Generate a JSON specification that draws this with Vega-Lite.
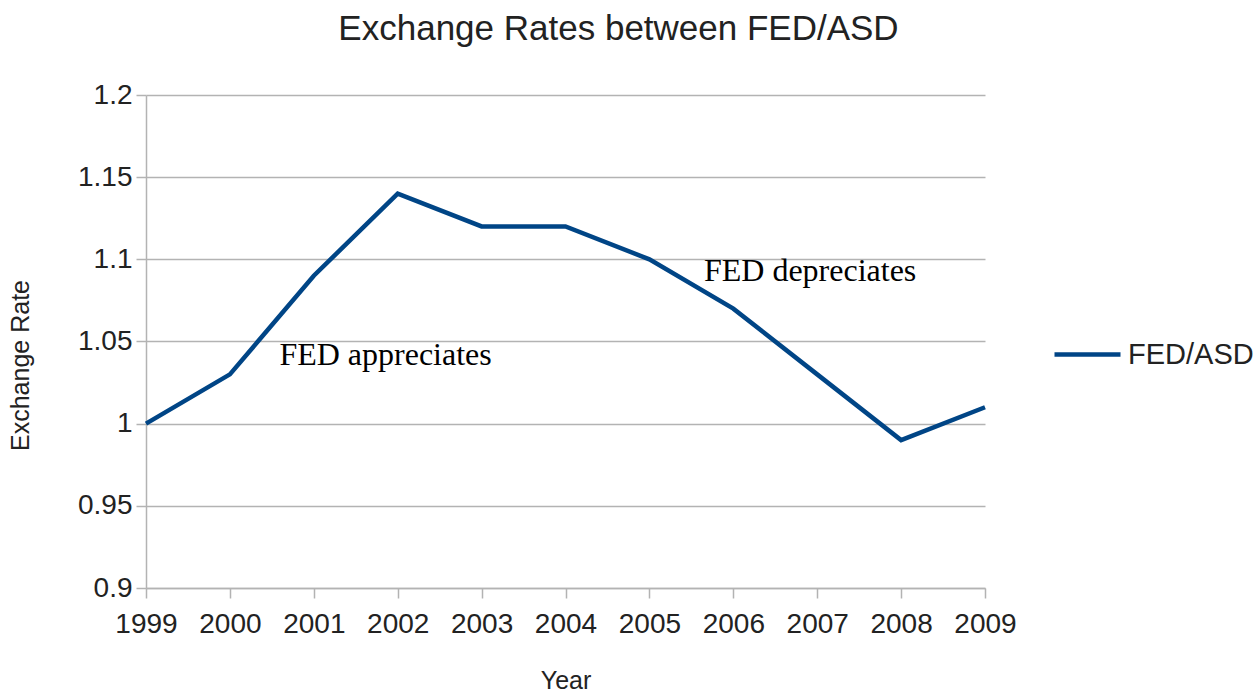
{
  "$schema": "https://vega.github.io/schema/vega-lite/v6.json",
  "width": 839,
  "height": 493,
  "autosize": {"type": "none"},
  "padding": {"left": 146, "top": 95, "right": 274, "bottom": 105},
  "background": "white",
  "title": {
    "text": "Exchange Rates between FED/ASD",
    "font": "Liberation Sans",
    "fontSize": 35,
    "fontWeight": "normal",
    "color": "#222222",
    "anchor": "middle",
    "frame": "group",
    "dx": 53,
    "offset": 34
  },
  "config": {
    "view": {"stroke": null},
    "axis": {
      "labelFont": "Liberation Sans",
      "titleFont": "Liberation Sans",
      "labelColor": "#222222",
      "titleColor": "#222222",
      "labelFontSize": 28,
      "titleFontSize": 25,
      "titleFontWeight": "normal",
      "domainColor": "#b3b3b3",
      "tickColor": "#b3b3b3",
      "gridColor": "#b3b3b3",
      "domainWidth": 1.5,
      "tickWidth": 1.5,
      "gridWidth": 1.5,
      "tickSize": 10
    }
  },
  "layer": [
    {
      "data": {
        "values": [
          {"year": 1999, "rate": 1.00, "series": "FED/ASD"},
          {"year": 2000, "rate": 1.03, "series": "FED/ASD"},
          {"year": 2001, "rate": 1.09, "series": "FED/ASD"},
          {"year": 2002, "rate": 1.14, "series": "FED/ASD"},
          {"year": 2003, "rate": 1.12, "series": "FED/ASD"},
          {"year": 2004, "rate": 1.12, "series": "FED/ASD"},
          {"year": 2005, "rate": 1.10, "series": "FED/ASD"},
          {"year": 2006, "rate": 1.07, "series": "FED/ASD"},
          {"year": 2007, "rate": 1.03, "series": "FED/ASD"},
          {"year": 2008, "rate": 0.99, "series": "FED/ASD"},
          {"year": 2009, "rate": 1.01, "series": "FED/ASD"}
        ]
      },
      "mark": {"type": "line", "strokeWidth": 4.5, "strokeJoin": "miter"},
      "encoding": {
        "x": {
          "field": "year",
          "type": "quantitative",
          "scale": {"domain": [1999, 2009], "nice": false, "zero": false},
          "axis": {
            "values": [1999, 2000, 2001, 2002, 2003, 2004, 2005, 2006, 2007, 2008, 2009],
            "format": "d",
            "grid": false,
            "title": "Year",
            "labelPadding": 12,
            "titlePadding": 30,
            "labelFlush": false
          }
        },
        "y": {
          "field": "rate",
          "type": "quantitative",
          "scale": {"domain": [0.9, 1.2], "nice": false, "zero": false},
          "axis": {
            "values": [0.9, 0.95, 1, 1.05, 1.1, 1.15, 1.2],
            "format": "~g",
            "title": "Exchange Rate",
            "titleY": 270,
            "labelPadding": 4,
            "titlePadding": 44
          }
        },
        "color": {
          "field": "series",
          "type": "nominal",
          "scale": {"range": ["#004586"]},
          "legend": {
            "title": null,
            "orient": "none",
            "legendX": 906,
            "legendY": 224,
            "symbolType": "stroke",
            "symbolSize": 4356,
            "symbolStrokeWidth": 4.5,
            "labelFont": "Liberation Sans",
            "labelFontSize": 29,
            "labelColor": "#222222",
            "labelOffset": 5
          }
        }
      }
    },
    {
      "data": {
        "values": [
          {"year": 2000.59, "rate": 1.0357, "label": "FED appreciates"},
          {"year": 2005.65, "rate": 1.0868, "label": "FED depreciates"}
        ]
      },
      "mark": {
        "type": "text",
        "align": "left",
        "baseline": "alphabetic",
        "font": "Liberation Serif",
        "fontSize": 32,
        "color": "#000000"
      },
      "encoding": {
        "x": {"field": "year", "type": "quantitative"},
        "y": {"field": "rate", "type": "quantitative"},
        "text": {"field": "label"}
      }
    }
  ]
}
